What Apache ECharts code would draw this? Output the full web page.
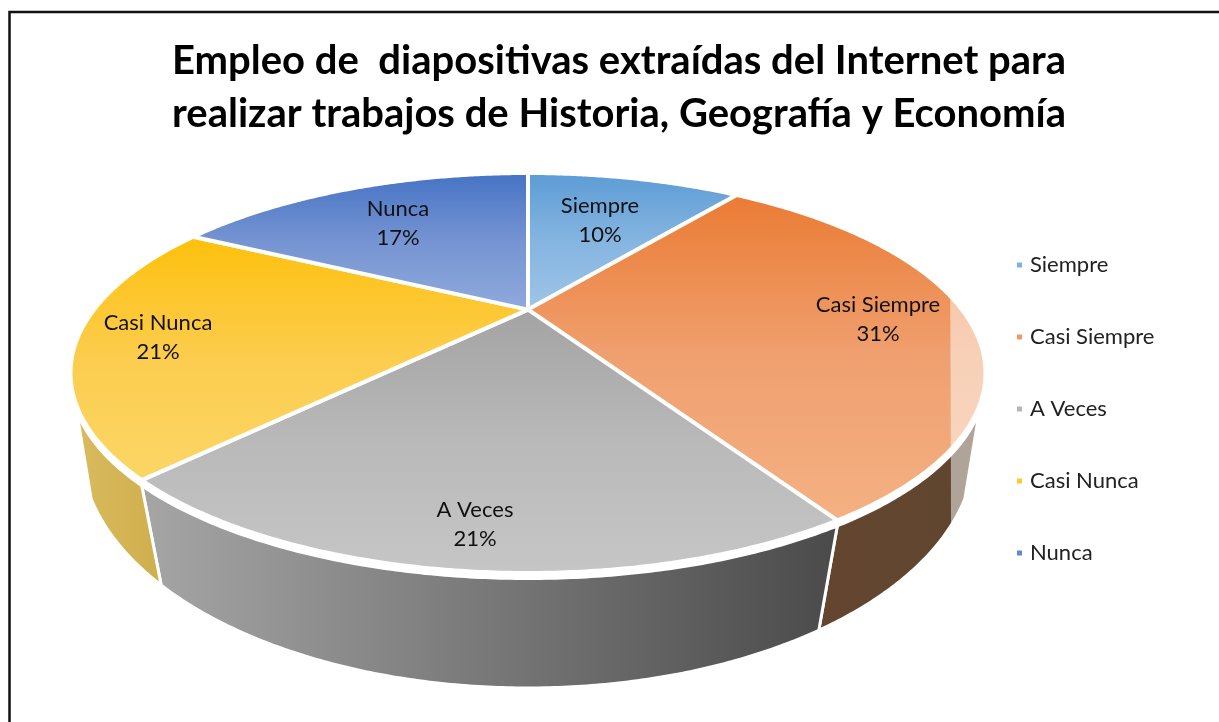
<!DOCTYPE html>
<html><head><meta charset="utf-8">
<style>html,body{margin:0;padding:0;background:#fff}#c{width:1219px;height:722px}</style>
<script src="https://cdn.jsdelivr.net/npm/echarts@6/dist/echarts.min.js"></script>
</head><body><div id="c"></div>
<script>
const titleText = 'Empleo de  diapositivas extraídas del Internet para\nrealizar trabajos de Historia, Geografía y Economía';
const categories = ['Siempre', 'Casi Siempre', 'A Veces', 'Casi Nunca', 'Nunca'];
const values = [10.3, 31, 20.7, 20.7, 17.3];

// Styling and layout (no data)
const legendColors = ['#7fb2e2', '#f09a62', '#b5b5b5', '#fcc92f', '#6487cf'];
const topGradients = [['#5b9bd5', '#85b5e0', '#9fc5e8'], ['#ea7b33', '#f0a070', '#f4b183'], ['#a3a3a3', '#b9b9b9', '#c6c6c6'], ['#fec00c', '#fccd4e', '#fbd666'], ['#4472c4', '#7694d2', '#8faadc']];
const wallGradients = [null, ['#64452f', '#60462f'], ['#a6a6a6', '#4a4a4a'], ['#d9bb5e', '#cfae4c'], null];
const labelAnchors = [[600, 220], [878, 319], [475, 524], [158, 337], [398, 223]];
const TOP = {cx: 528, cy: 373, a: 457.5, b: 200, d: -0.317};
const BOTTOM = {cx: 528, cy: 448, a: 447, b: 240, d: -0.27};
const WALL_MIN_Y = 0.45, WALL_GAP = 5.5, FADE_X = 950;

const total = values.reduce((s, v) => s + v, 0);
function project(p, t) {
  const sx = Math.sin(t), sy = -Math.cos(t), k = 1 + p.d * sy;
  return [p.cx + p.a * sx * Math.sqrt(1 - p.d * p.d) / k, p.cy + p.b * (sy + p.d) / k];
}
function apex() { return [TOP.cx, TOP.cy + TOP.b * TOP.d]; }
function angles(from, to) {
  const out = [], n = Math.max(2, Math.ceil(Math.abs(to - from) / 0.008));
  for (let i = 0; i <= n; i++) out.push(from + (to - from) * i / n);
  return out;
}
function grad(c, horizontal) {
  return {type: 'linear', x: 0, y: 0, x2: horizontal ? 1 : 0, y2: horizontal ? 0 : 1,
    colorStops: c.map((color, i) => ({offset: i / (c.length - 1), color}))};
}
function makeRender(idx) {
  return function (params, api) {
    const before = values.slice(0, idx).reduce((s, v) => s + v, 0);
    const from = before / total * 2 * Math.PI;
    const to = from + api.value(0) / total * 2 * Math.PI;
    const ts = angles(from, to);
    const children = [];
    // side wall
    if (wallGradients[idx]) {
      const vis = ts.filter(t => -Math.cos(t) >= WALL_MIN_Y);
      const up = vis.map(t => { const q = project(TOP, t); return [q[0], q[1] + WALL_GAP]; });
      const low = vis.map(t => project(BOTTOM, t)).reverse();
      children.push({type: 'polygon', shape: {points: up.concat(low)},
        style: {fill: grad(wallGradients[idx], true), stroke: '#fff', lineWidth: 3}});
      const upF = up.filter(q => q[0] >= FADE_X), lowF = low.filter(q => q[0] >= FADE_X);
      if (upF.length && lowF.length) {
        children.push({type: 'polygon', shape: {points: upF.concat(lowF)}, style: {fill: 'rgba(255,255,255,0.5)'}});
      }
    }
    // top face
    const rim = ts.map(t => project(TOP, t));
    children.push({type: 'polygon', shape: {points: [apex()].concat(rim)},
      style: {fill: grad(topGradients[idx], false), stroke: '#fff', lineWidth: 4, lineJoin: 'round'}});
    const rimF = rim.filter(q => q[0] >= FADE_X);
    if (rimF.length) {
      children.push({type: 'polygon', shape: {points: rimF}, style: {fill: 'rgba(255,255,255,0.5)'}});
    }
    // label
    children.push({type: 'text', x: labelAnchors[idx][0], y: labelAnchors[idx][1], z2: 10,
      style: {text: categories[idx] + '\n' + Math.round(values[idx] / total * 100) + '%', fill: '#111', font: '22px Lato',
        lineHeight: 29, align: 'center', verticalAlign: 'middle'}});
    return {type: 'group', children};
  };
}
const chart = echarts.init(document.getElementById('c'), null, {renderer: 'canvas'});
chart.setOption({
  animation: false,
  backgroundColor: '#fff',
  title: {text: titleText, left: 614, top: 30, textAlign: 'center',
    textStyle: {fontFamily: 'Lato', fontWeight: 'bold', fontSize: 40, lineHeight: 53, color: '#000'}},
  legend: {orient: 'vertical', left: 1012, top: 248, itemGap: 48, itemWidth: 5, itemHeight: 5, icon: 'rect',
    selectedMode: false, data: categories,
    textStyle: {fontFamily: 'Lato', fontSize: 22, color: '#222', padding: [0, 0, 0, 3], height: 24, lineHeight: 24}},
  graphic: [{type: 'rect', silent: true, shape: {x: 9.5, y: 12, width: 1300, height: 800},
    style: {fill: 'none', stroke: '#111', lineWidth: 2.5}}],
  series: categories.map((name, i) => ({
    type: 'custom', name, coordinateSystem: 'none', silent: true, clip: false,
    itemStyle: {color: legendColors[i]},
    renderItem: makeRender(i), data: [[values[i]]]
  }))
});
</script></body></html>
